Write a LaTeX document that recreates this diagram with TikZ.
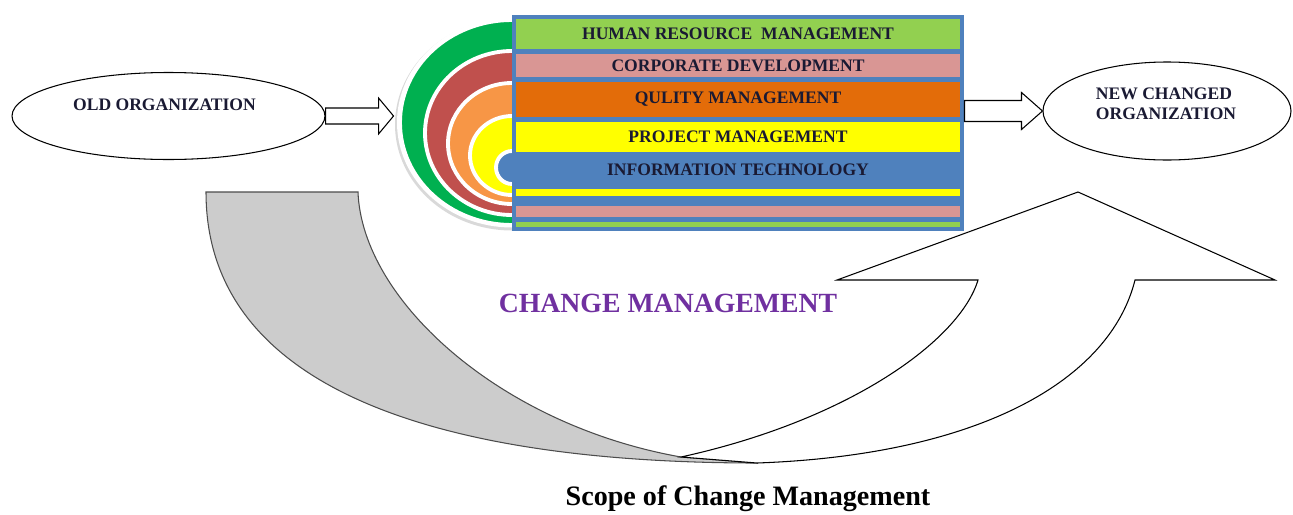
\documentclass[tikz,border=0pt]{standalone}
\usepackage{fontspec}
\setmainfont{Liberation Serif}
\usetikzlibrary{shapes.geometric,calc}
\newcommand\pxu{0.02cm}
\definecolor{hrgreen}{HTML}{92D050}
\definecolor{cdpink}{HTML}{D99694}
\definecolor{qmorange}{HTML}{E36C09}
\definecolor{pmyellow}{HTML}{FFFF00}
\definecolor{itblue}{HTML}{4F81BD}
\definecolor{ringgreen}{HTML}{00B050}
\definecolor{ringred}{HTML}{C0504D}
\definecolor{ringorange}{HTML}{F79646}
\definecolor{cmpurple}{HTML}{7030A0}
\definecolor{labelink}{HTML}{1A1A33}
\definecolor{backgray}{HTML}{CCCCCC}

\begin{document}
\begin{tikzpicture}[x=\pxu,y=-\pxu,
  every node/.style={font=\fontsize{10}{11.5}\selectfont\bfseries,text=labelink,inner sep=0pt},
  org/.style={ellipse,draw,line width=0.6pt},
  bar/.style={minimum width=444*\pxu},
  ring/.style={draw=white,line width=2.2pt},
  blockarrow/.style={draw,fill=white,line width=0.6pt}]
\useasboundingbox (0,0) rectangle (1293,514);

\filldraw[fill=backgray,draw=black!70,line width=0.6pt]
  (206,192) -- (358,192) .. controls (362,300) and (500,425) .. (681,457)
  -- (758,463) .. controls (440,463) and (206,390) .. (206,192) -- cycle;
\filldraw[fill=white,draw=black,line width=0.6pt]
  (681,457) .. controls (850,420) and (960,340) .. (978,280)
  -- (837,280) -- (1078,192) -- (1275,280) -- (1135,280)
  .. controls (1110,380) and (980,455) .. (757,463) -- cycle;

\node[org,minimum width=313*\pxu,minimum height=87*\pxu] (old) at (168.5,116) {};
\node (oldtxt) at ($(old)+(-4,-11)$) {OLD ORGANIZATION};
\node[org,minimum width=248*\pxu,minimum height=98*\pxu] (newo) at (1167,111) {};
\node[align=left] (newtxt) at ($(newo)+(-1,-7)$) {NEW CHANGED\\ORGANIZATION};

\fill[black!15] (512,124.5) ellipse [x radius=117,y radius=106];
\fill[white] (512,122.5) ellipse [x radius=115,y radius=105];
\foreach \col/\cy/\rx/\ry in {ringgreen/122.5/112/102.5,ringred/133/87/82,
    ringorange/143.5/64/60.5,pmyellow/155.5/42/39.5,itblue/167.5/16/16.5}
  \filldraw[fill=\col,ring] (512,\cy) ellipse [x radius=\rx,y radius=\ry];

\node[fill=itblue,minimum width=452*\pxu,minimum height=216*\pxu] (stack) at (738,123) {};
\node[bar,fill=hrgreen,minimum height=30*\pxu] (hrm) at (738,34) {HUMAN RESOURCE\ \ MANAGEMENT};
\node[bar,fill=cdpink,minimum height=23*\pxu] (cdev) at (738,65.5) {CORPORATE DEVELOPMENT};
\node[bar,fill=qmorange,minimum height=35*\pxu] (qm) at (738,99.5) {QULITY MANAGEMENT};
\node[bar,fill=pmyellow,minimum height=30*\pxu] (pm) at (738,137) {PROJECT MANAGEMENT};
\node (it) at (738,170) {INFORMATION TECHNOLOGY};
\node[bar,fill=pmyellow,minimum height=7*\pxu] (ylow) at (738,192.5) {};
\node[bar,fill=cdpink,minimum height=11*\pxu] (plow) at (738,211.5) {};
\node[bar,fill=hrgreen,minimum height=5*\pxu] (glow) at (738,224.5) {};

\draw[blockarrow] ($(old.east)+(0,-8)$) -- ++(53,0) -- ++(0,-10) -- ++(15,18)
  -- ++(-15,18) -- ++(0,-10) -- ++(-53,0) -- cycle;
\draw[blockarrow] (newo.west) -- ++(-21,-18.5) -- ++(0,8) -- ++(-57,0) -- ++(0,21)
  -- ++(57,0) -- ++(0,8) -- cycle;

\node[font=\fontsize{15.8}{18}\selectfont\bfseries,text=cmpurple] (cm) at (668,303) {CHANGE MANAGEMENT};
\node[font=\fontsize{16}{19}\selectfont\bfseries,text=black,anchor=base] (scope) at (748,505) {Scope of Change Management};
\end{tikzpicture}
\end{document}
